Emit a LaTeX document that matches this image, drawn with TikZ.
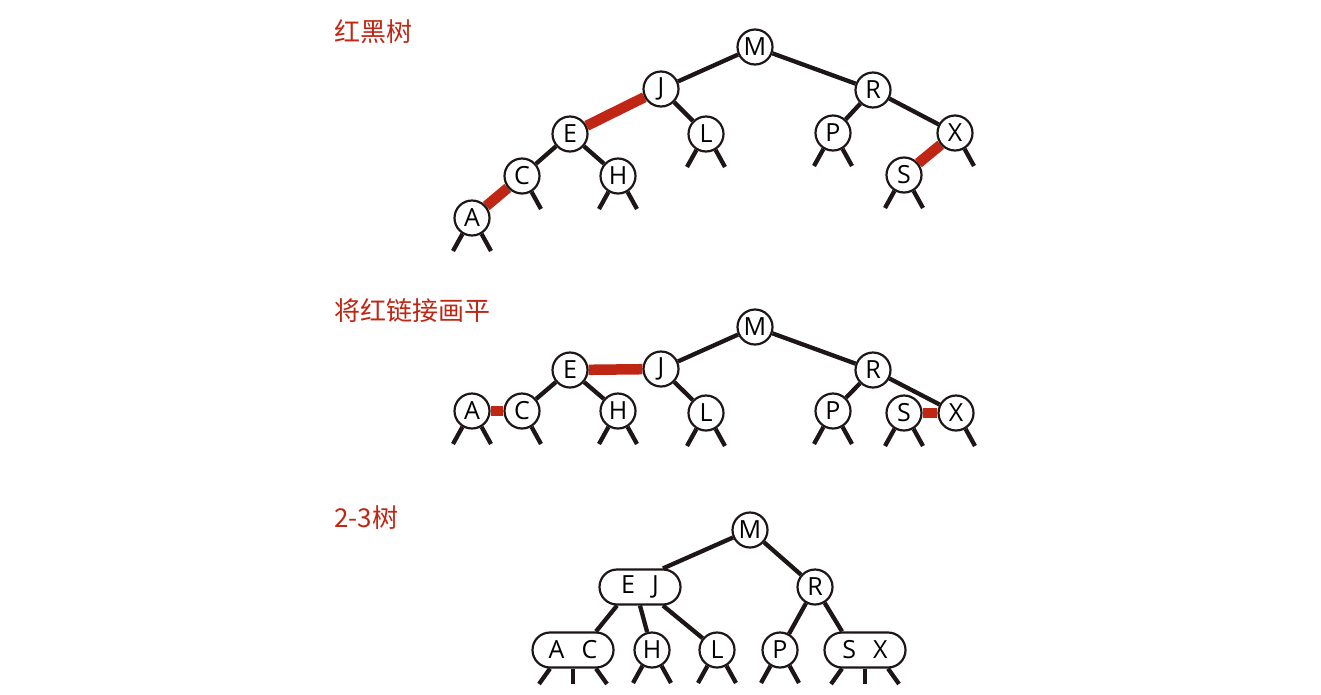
\documentclass[tikz,border=0pt]{standalone}
\usepackage{fontspec}
\setmainfont{Open Sans}
\newfontfamily\cjk{Noto Sans CJK SC}
\usetikzlibrary{shapes.misc,backgrounds,calc}
\definecolor{rbred}{RGB}{191,38,20}
\definecolor{ink}{RGB}{30,22,22}
\newcommand\lstub[1]{\path (#1) ++(-19,33) coordinate (#1-l); \draw[blk] (#1.239) -- (#1-l);}
\newcommand\rstub[1]{\path (#1) ++(19,33) coordinate (#1-r); \draw[blk] (#1.301) -- (#1-r);}
\newcommand\bstubs[1]{\lstub{#1}\rstub{#1}}
\newcommand\tstubs[1]{%
  \path (#1.center) ++(-34,34) coordinate (#1-l);
  \path (#1.center) ++(0,34) coordinate (#1-m);
  \path (#1.center) ++(34,34) coordinate (#1-r);
  \draw[blk] (#1.south west) -- (#1-l);
  \draw[blk] (#1.south) -- (#1-m);
  \draw[blk] (#1.south east) -- (#1-r);}
\begin{document}
\begin{tikzpicture}[x=1pt,y=-1pt,
  key/.style={circle,draw=ink,line width=2.2pt,fill=white,minimum size=35pt,inner sep=0pt,font=\fontsize{25}{25}\selectfont},
  pair/.style={rounded rectangle,draw=ink,line width=2.2pt,fill=white,minimum width=81pt,minimum height=35pt,inner sep=0pt,font=\fontsize{25}{25}\selectfont},
  blk/.style={draw=ink,line width=4.3pt},
  redl/.style={draw=rbred,line width=10.5pt},
  title/.style={anchor=west,inner sep=0pt,text=rbred,font=\cjk\fontsize{26}{26}\selectfont}]
\useasboundingbox (0,0) rectangle (1321,694);

% titles
\node[title] (t1) at (334,32) {红黑树};
\node[title] (t2) at (334,311) {将红链接画平};
\node[title] (t3) at (334,518) {2-3树};

% ---------- top: red-black tree ----------
\node[key] (tM) at (755,47) {M};
\node[key] (tJ) at (661,89) {J};
\node[key] (tR) at (873,90) {R};
\node[key] (tE) at (570,134) {E};
\node[key] (tL) at (706,134) {L};
\node[key] (tP) at (833,133) {P};
\node[key] (tX) at (955,133) {X};
\node[key] (tC) at (522,176) {C};
\node[key] (tH) at (618,176) {H};
\node[key] (tS) at (904,175) {S};
\node[key] (tA) at (472,218) {A};
\begin{pgfonlayer}{background}
\draw[blk] (tM) -- (tJ);
\draw[blk] (tM) -- (tR);
\draw[redl] (tJ) -- (tE);
\draw[blk] (tJ) -- (tL);
\draw[blk] (tE) -- (tC);
\draw[blk] (tE) -- (tH);
\draw[redl] (tC) -- (tA);
\draw[blk] (tR) -- (tP);
\draw[blk] (tR) -- (tX);
\draw[redl] (tX) -- (tS);
\end{pgfonlayer}
\bstubs{tA}\rstub{tC}\bstubs{tH}\bstubs{tL}\bstubs{tP}\rstub{tX}\bstubs{tS}

% ---------- middle: flattened ----------
\node[key] (mM) at (755,327) {M};
\node[key] (mJ) at (661,369) {J};
\node[key] (mE) at (570,370) {E};
\node[key] (mR) at (873,370) {R};
\node[key] (mA) at (472,411) {A};
\node[key] (mC) at (522,411) {C};
\node[key] (mH) at (618,411) {H};
\node[key] (mL) at (706,413) {L};
\node[key] (mP) at (833,411) {P};
\node[key] (mS) at (904,413) {S};
\node[key] (mX) at (956,413) {X};
\begin{pgfonlayer}{background}
\draw[blk] (mM) -- (mJ);
\draw[blk] (mM) -- (mR);
\draw[redl] (mJ) -- (mE);
\draw[blk] (mJ) -- (mL);
\draw[blk] (mE) -- (mC);
\draw[blk] (mE) -- (mH);
\draw[redl] (mC) -- (mA);
\draw[blk] (mR) -- (mP);
\draw[blk] (mR) -- (mX);
\draw[redl] (mX) -- (mS);
\end{pgfonlayer}
\bstubs{mA}\rstub{mC}\bstubs{mH}\bstubs{mL}\bstubs{mP}\rstub{mX}\bstubs{mS}

% ---------- bottom: 2-3 tree ----------
\node[key] (bM) at (750,530) {M};
\node[pair] (bEJ) at (640,587) {E\hspace{17pt}J};
\node[key] (bR) at (815,587) {R};
\node[pair] (bAC) at (573,650) {A\hspace{17pt}C};
\node[key] (bH) at (652,650) {H};
\node[key] (bL) at (717,650) {L};
\node[key] (bP) at (780,650) {P};
\node[pair] (bSX) at (865,650) {S\hspace{17pt}X};
\begin{pgfonlayer}{background}
\draw[blk] (bM) -- (bEJ.north east);
\draw[blk] (bM) -- (bR);
\draw[blk] (bEJ.south west) -- (bAC.north east);
\draw[blk] (bEJ.south) -- (bH);
\draw[blk] (bEJ.south east) -- (bL);
\draw[blk] (bR) -- (bP);
\draw[blk] (bR) -- (bSX.north west);
\end{pgfonlayer}
\tstubs{bAC}\bstubs{bH}\bstubs{bL}\bstubs{bP}\tstubs{bSX}
\end{tikzpicture}
\end{document}
